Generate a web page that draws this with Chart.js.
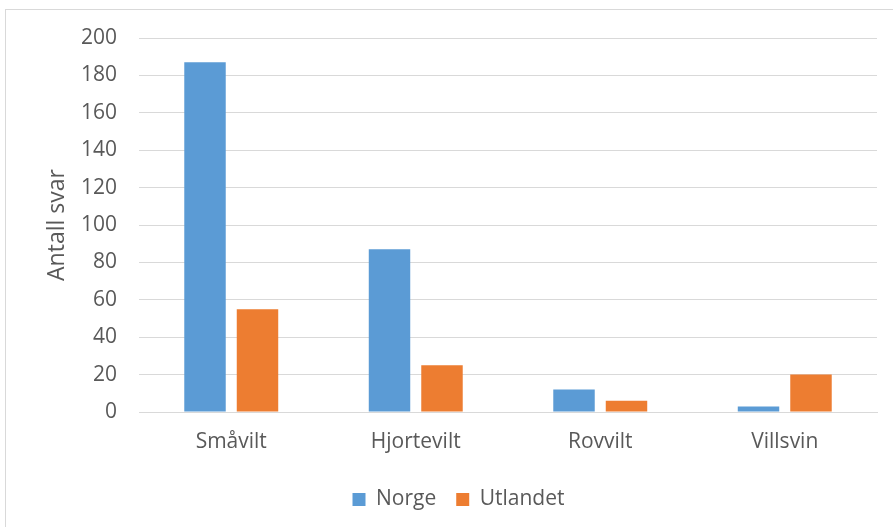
<!DOCTYPE html>
<html>
<head>
<meta charset="utf-8">
<script src="https://cdn.jsdelivr.net/npm/chart.js@4/dist/chart.umd.min.js"></script>
<style>
  html, body { margin: 0; padding: 0; background: #fff; }
  #wrap { position: relative; width: 893px; height: 527px; overflow: hidden; }
  #frame { position: absolute; left: 5px; top: 9px; width: 900px; height: 600px; border: 1px solid #d9d9d9; box-sizing: border-box; }
  canvas { position: absolute; left: 0; top: 0; }
</style>
</head>
<body>
<div id="wrap">
  <div id="frame"></div>
  <canvas id="c" width="893" height="527"></canvas>
</div>
<script>
const categories = ['Småvilt', 'Hjortevilt', 'Rovvilt', 'Villsvin'];
const norge = [187, 87, 12, 3];
const utlandet = [55, 25, 6, 20];
const yTicks = [0, 20, 40, 60, 80, 100, 120, 140, 160, 180, 200];
const seriesNames = ['Norge', 'Utlandet'];
const axisTitle = 'Antall svar';

const FONT = '"Open Sans", "Liberation Sans", sans-serif';
const TXT = '#595959';
const GRID = '#d9d9d9';

new Chart(document.getElementById('c'), {
  type: 'bar',
  data: {
    labels: categories,
    datasets: [
      { label: seriesNames[0], data: norge, backgroundColor: '#5B9BD5', borderWidth: 0,
        categoryPercentage: 0.569, barPercentage: 0.79 },
      { label: seriesNames[1], data: utlandet, backgroundColor: '#ED7D31', borderWidth: 0,
        categoryPercentage: 0.569, barPercentage: 0.79 }
    ]
  },
  options: {
    responsive: false,
    animation: false,
    devicePixelRatio: 1,
    layout: { padding: { left: 40, right: 16, top: 38, bottom: 7 } },
    plugins: {
      legend: {
        position: 'bottom',
        labels: { font: { family: FONT, size: 21 }, color: TXT, boxWidth: 13, boxHeight: 13, padding: 20 }
      },
      tooltip: { enabled: false }
    },
    scales: {
      x: {
        afterFit: (s) => { s.height = 57; },
        grid: { display: false, drawTicks: false },
        border: { display: true, color: GRID, width: 1 },
        ticks: { font: { family: FONT, size: 21 }, color: TXT, padding: 17 }
      },
      y: {
        min: 0, max: 200,
        afterBuildTicks: (s) => { s.ticks = yTicks.map(v => ({ value: v })); },
        afterFit: (s) => { s.width = 99; },
        grid: { color: GRID, lineWidth: 1, drawTicks: false },
        border: { display: false },
        ticks: { font: { family: FONT, size: 21 }, color: TXT, padding: 22 },
        title: { display: true, text: axisTitle, font: { family: FONT, size: 23 }, color: TXT, padding: { top: 4, bottom: 4 } }
      }
    }
  }
});
</script>
</body>
</html>
